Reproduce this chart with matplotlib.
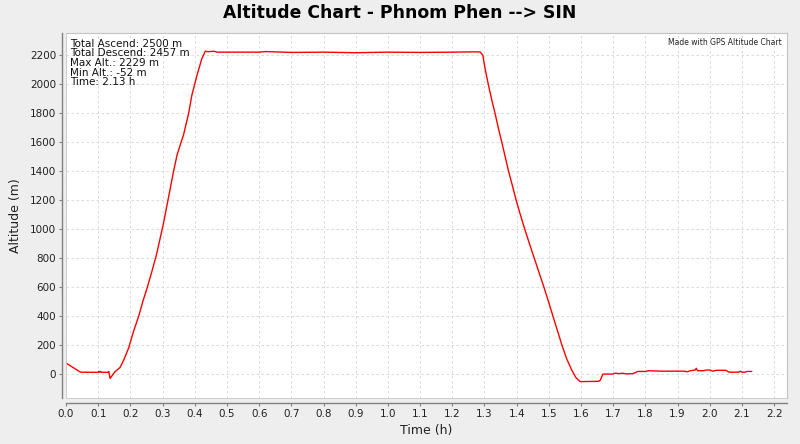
import matplotlib
matplotlib.use("Agg")
import matplotlib.pyplot as plt
from matplotlib.patches import Rectangle

time_h = [0.000, 0.043, 0.046, 0.100, 0.102, 0.105, 0.108, 0.110, 0.130, 0.133,
          0.137, 0.152, 0.168, 0.179, 0.195, 0.210, 0.226, 0.239, 0.252, 0.267,
          0.281, 0.295, 0.303, 0.314, 0.324, 0.334, 0.345, 0.358, 0.365, 0.381,
          0.391, 0.407, 0.422, 0.433, 0.440, 0.460, 0.470, 0.500,
          0.600, 0.620, 0.700, 0.800, 0.900, 0.950, 1.000, 1.100, 1.200, 1.270,
          1.287, 1.295, 1.302, 1.312, 1.323, 1.333, 1.343, 1.354, 1.364, 1.375,
          1.387, 1.398, 1.411, 1.424, 1.440, 1.455, 1.470, 1.485, 1.500, 1.513,
          1.527, 1.541, 1.555, 1.570, 1.584, 1.597, 1.655, 1.660, 1.668, 1.700,
          1.705, 1.720, 1.730, 1.740, 1.760, 1.770, 1.775, 1.800, 1.810, 1.850,
          1.920, 1.930, 1.940, 1.955, 1.958, 1.962, 1.980, 1.990, 2.000, 2.010,
          2.020, 2.050, 2.060, 2.090, 2.095, 2.100, 2.110, 2.115, 2.130]
altitude_m = [78, 18, 15, 14, 22, 14, 20, 14, 14, 20,
              -28, 18, 48, 97, 184, 298, 402, 505, 596, 711,
              825, 963, 1043, 1169, 1284, 1398, 1513, 1604, 1650, 1800,
              1925, 2063, 2177, 2229, 2225, 2228, 2222, 2222,
              2222, 2226, 2220, 2222, 2218, 2220, 2222, 2220, 2222, 2224,
              2223, 2200, 2108, 2000, 1891, 1800, 1700, 1600, 1505, 1400,
              1300, 1205, 1105, 1010, 900, 800, 700, 600, 495, 400,
              300, 200, 110, 35, -22, -50, -48, -40, 2, 2,
              8, 5, 8, 3, 5, 12, 20, 20, 25, 22,
              22, 18, 25, 30, 42, 25, 25, 30, 30, 22,
              28, 28, 15, 15, 22, 15, 15, 20, 20]

x_ticks = [round(0.1 * i, 1) for i in range(23)]
y_ticks = list(range(0, 2201, 200))

stats_text = ["Total Ascend: 2500 m", "Total Descend: 2457 m",
              "Max Alt.: 2229 m", "Min Alt.: -52 m", "Time: 2.13 h"]

plt.rcParams['font.family'] = ['DejaVu Sans']
fig = plt.figure(figsize=(8, 4.44), dpi=100, facecolor='#eeeeee')
ax = fig.add_axes([66/800, 1-398/444, 721/800, 365/444])
ax.set_facecolor('white')

ax.plot(time_h, altitude_m, color='#ff0000', lw=1.0)
ax.set_xlim(0, 2.24)
ax.set_ylim(-163, 2354)
ax.set_xticks(x_ticks)
ax.set_xticklabels([f"{v:.1f}" for v in x_ticks])
ax.set_yticks(y_ticks)
ax.grid(True, color='#d4d4d4', ls=(0, (3, 3)), lw=0.6)
ax.tick_params(labelsize=7.5, colors='#808080', labelcolor='#222222', length=2, width=0.8, pad=2)

for s in ['top', 'right']:
    ax.spines[s].set_color('#b0b0b0')
    ax.spines[s].set_linewidth(0.8)
ax.spines['left'].set_position(('outward', 3))
ax.spines['bottom'].set_position(('outward', 3.6))
for s in ['left', 'bottom']:
    ax.spines[s].set_color('#808080')
    ax.spines[s].set_linewidth(1.0)
ax.add_patch(Rectangle((0, 0), 1, 1, transform=ax.transAxes, fill=False,
                       ec='#c8c8c8', lw=0.6, zorder=5, clip_on=False))

ax.set_xlabel("Time (h)", fontsize=9, color='#222222', labelpad=4)
ax.set_ylabel("Altitude (m)", fontsize=9, color='#222222', labelpad=6)
fig.suptitle("Altitude Chart - Phnom Phen --> SIN", fontsize=12.4, fontweight='bold',
             y=0.99, va='top')

for i, line in enumerate(stats_text):
    ax.text(0.006, 0.984 - i * 0.0262, line, transform=ax.transAxes, fontsize=7.5,
            va='top', ha='left', color='#111111', linespacing=1.0)
ax.text(0.993, 0.985, "Made with GPS Altitude Chart", transform=ax.transAxes,
        fontsize=5.5, va='top', ha='right', color='#222222')

fig.savefig("out.png", dpi=100, facecolor=fig.get_facecolor())
